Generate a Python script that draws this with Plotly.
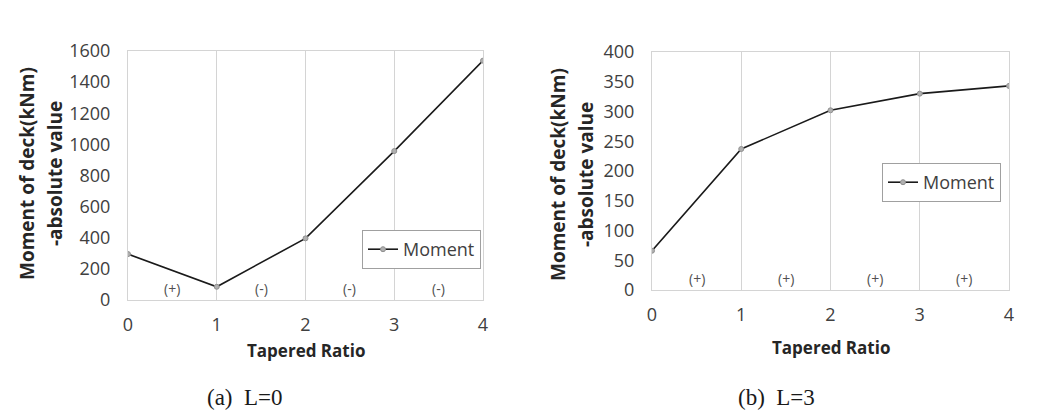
import plotly.graph_objects as go

tapered_ratio = [0, 1, 2, 3, 4]
moment_l0 = [295, 85, 396, 957, 1538]
moment_l3 = [66, 237, 302, 330, 343]
signs_l0 = ["(+)", "(-)", "(-)", "(-)"]
signs_l3 = ["(+)", "(+)", "(+)", "(+)"]
sign_x = [0.5, 1.5, 2.5, 3.5]
y_ticks_l0 = [0, 200, 400, 600, 800, 1000, 1200, 1400, 1600]
y_ticks_l3 = [0, 50, 100, 150, 200, 250, 300, 350, 400]
x_title = "Tapered Ratio"
y_title_1 = "Moment of deck(kNm)"
y_title_2 = "-absolute value"
captions = ["(a)  L=0", "(b)  L=3"]

W, H = 1038, 414
FONT = "Open Sans"
TXT = "#404040"
GRID = "#d4d4d4"

fig = go.Figure()

line_style = dict(color="#1a1a1a", width=1.6)
marker_style = dict(symbol="circle", size=5, color="#b0b0b0",
                    line=dict(color="#909090", width=1))

fig.add_trace(go.Scatter(x=tapered_ratio, y=moment_l0, mode="lines+markers",
                         name="Moment", line=line_style, marker=marker_style,
                         xaxis="x", yaxis="y", legend="legend", showlegend=True))
fig.add_trace(go.Scatter(x=tapered_ratio, y=moment_l3, mode="lines+markers",
                         name="Moment", line=line_style, marker=marker_style,
                         xaxis="x2", yaxis="y2", legend="legend2", showlegend=True))


def px_x(p):
    return p / W


def px_y(p):
    return 1 - p / H


axis_common = dict(showline=True, mirror=True, linecolor=GRID, linewidth=1,
                   zeroline=False, ticks="", color=TXT, automargin=False,
                   tickfont=dict(family=FONT, size=18, color=TXT))

legend_common = dict(xanchor="right", yanchor="top",
                     bordercolor="#a0a0a0", borderwidth=1, bgcolor="white",
                     itemwidth=30, font=dict(family=FONT, size=18, color=TXT),
                     tracegroupgap=0, visible=True)

fig.update_layout(
    width=W, height=H,
    margin=dict(l=0, r=0, t=0, b=0, pad=0, autoexpand=False),
    showlegend=True,
    paper_bgcolor="white", plot_bgcolor="white",
    font=dict(family=FONT, color=TXT),
    xaxis=dict(domain=[px_x(128), px_x(483)], range=[0, 4], tickvals=tapered_ratio,
               showgrid=True, gridcolor=GRID, gridwidth=1, anchor="y",
               ticklabelstandoff=8, **axis_common),
    yaxis=dict(domain=[px_y(300), px_y(51)], range=[0, 1600], tickvals=y_ticks_l0,
               showgrid=False, anchor="x", ticklabelstandoff=13, **axis_common),
    xaxis2=dict(domain=[px_x(652), px_x(1009)], range=[0, 4], tickvals=tapered_ratio,
                showgrid=True, gridcolor=GRID, gridwidth=1, anchor="y2",
                ticklabelstandoff=8, **axis_common),
    yaxis2=dict(domain=[px_y(290), px_y(52)], range=[0, 400], tickvals=y_ticks_l3,
                showgrid=False, anchor="x2", ticklabelstandoff=13, **axis_common),
    legend=dict(x=px_x(481), y=px_y(230), **legend_common),
    legend2=dict(x=px_x(1001), y=px_y(163), **legend_common),
)

annotations = []
sign_font = dict(family=FONT, size=14, color="#505050")
for sx, s in zip(sign_x, signs_l0):
    annotations.append(dict(x=sx, y=71, xref="x", yref="y", text=s, showarrow=False,
                            xanchor="center", yanchor="middle", font=sign_font))
for sx, s in zip(sign_x, signs_l3):
    annotations.append(dict(x=sx, y=20, xref="x2", yref="y2", text=s, showarrow=False,
                            xanchor="center", yanchor="middle", font=sign_font))


def paper_text(xp, yp, text, font, angle=0):
    return dict(x=px_x(xp), y=px_y(yp), xref="paper", yref="paper", text=text,
                showarrow=False, xanchor="center", yanchor="middle",
                textangle=angle, font=font)


bold_title = dict(family=FONT, size=17, color="#262626")
annotations.append(paper_text(306, 350, "<b>" + x_title + "</b>", bold_title))
annotations.append(paper_text(831, 347, "<b>" + x_title + "</b>", bold_title))

ytitle_font = dict(family=FONT, size=19, color="#262626")
for (x1, x2, yc) in [(27, 55, 174), (558, 586, 175)]:
    annotations.append(paper_text(x1, yc, "<b>" + y_title_1 + "</b>", ytitle_font, -90))
    annotations.append(paper_text(x2, yc, "<b>" + y_title_2 + "</b>", ytitle_font, -90))

cap_font = dict(family="Liberation Serif", size=23, color="#1a1a1a")
annotations.append(paper_text(245, 397, captions[0], cap_font))
annotations.append(paper_text(776, 397, captions[1], cap_font))

fig.update_layout(annotations=annotations)

fig.write_html("out.html")
